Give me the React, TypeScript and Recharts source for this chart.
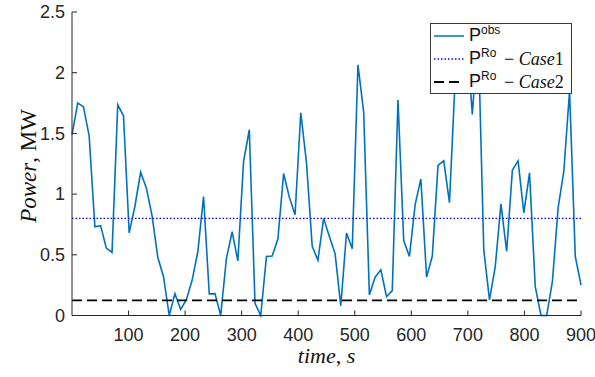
import React from "react";
import { LineChart, Line, XAxis, YAxis, Legend, Label } from "recharts";

// observed power, one sample per step over 0..900 s
const powerObs = [
  1.49, 1.75, 1.72, 1.48, 0.73, 0.74, 0.555, 0.52, 1.735, 1.645,
  0.68, 0.9, 1.18, 1.05, 0.82, 0.48, 0.32, 0.0, 0.18, 0.05,
  0.13, 0.29, 0.525, 0.98, 0.178, 0.18, 0.0, 0.47, 0.69, 0.45,
  1.27, 1.53, 0.1, 0.0, 0.486, 0.49, 0.63, 1.17, 0.975, 0.83,
  1.67, 1.26, 0.57, 0.455, 0.8, 0.65, 0.51, 0.08, 0.68, 0.55,
  2.065, 1.675, 0.17, 0.316, 0.376, 0.155, 0.205, 1.775, 0.618, 0.486,
  0.913, 1.125, 0.316, 0.49, 1.236, 1.274, 0.93, 1.95, 2.25, 2.3,
  1.657, 2.35, 0.54, 0.128, 0.4, 0.92, 0.527, 1.197, 1.274, 0.845,
  1.175, 0.238, 0.0, 0.0, 0.28, 0.886, 1.19, 1.85, 0.486, 0.25,
];
const case1Level = 0.8;
const case2Level = 0.125;
const xTicks = [100, 200, 300, 400, 500, 600, 700, 800, 900];
const yTicks = [0, 0.5, 1, 1.5, 2, 2.5];
const seriesOrder = ["obs", "case1", "case2"];
const legendSup: Record<string, string> = { obs: "obs", case1: "Ro", case2: "Ro" };
const legendCase: Record<string, string> = { obs: "", case1: "Case1", case2: "Case2" };

const time = powerObs.map((_, i) => (i * 900) / (powerObs.length - 1));
const data = powerObs.map((p, i) => ({
  t: time[i],
  obs: p,
  case1: case1Level,
  case2: case2Level,
}));

const axisColor = "#262626";
const sans = "'Liberation Sans', Arial, sans-serif";
const serif = "'Liberation Serif', 'Times New Roman', serif";

function LegendBox({ payload }: any) {
  const items = [...(payload ?? [])].sort(
    (a: any, b: any) => seriesOrder.indexOf(a.dataKey) - seriesOrder.indexOf(b.dataKey)
  );
  return (
    <div
      style={{
        width: 142,
        height: 71,
        boxSizing: "border-box",
        border: "1px solid #3a3a3a",
        background: "#fff",
        paddingTop: 1,
      }}
    >
      {items.map((entry: any) => {
        const key = entry.dataKey as string;
        return (
          <div key={key} style={{ display: "flex", alignItems: "center", height: 23, position: "relative" }}>
            <svg width={36} height={10} style={{ marginLeft: 2 }}>
              <line
                x1={1}
                x2={31}
                y1={5}
                y2={5}
                stroke={entry.color}
                strokeWidth={key === "case2" ? 1.8 : 1.5}
                strokeDasharray={entry.payload?.strokeDasharray}
              />
            </svg>
            <span style={{ fontFamily: sans, fontSize: 18, color: "#111", lineHeight: "18px" }}>
              P
              <span style={{ fontSize: 12, position: "relative", top: -7 }}>{legendSup[key]}</span>
            </span>
            {legendCase[key] && (
              <span
                style={{
                  position: "absolute",
                  left: 73,
                  fontFamily: serif,
                  fontSize: 18,
                  color: "#111",
                  whiteSpace: "nowrap",
                }}
              >
                {"\u2212 "}
                <i>{legendCase[key].slice(0, 4)}</i>
                {legendCase[key].slice(4)}
              </span>
            )}
          </div>
        );
      })}
    </div>
  );
}

export default function App() {
  return (
    <div style={{ position: "absolute", left: 0, top: 0, background: "#fff" }}>
      <LineChart width={595} height={377} data={data} margin={{ top: 12, right: 14, bottom: 0, left: 0 }}>
        <XAxis
          dataKey="t"
          type="number"
          domain={[0, 900]}
          ticks={xTicks}
          interval={0}
          height={61.5}
          tickSize={-5}
          tickMargin={18}
          stroke={axisColor}
          tick={{ fill: axisColor, fontSize: 18, fontFamily: sans }}
        >
          <Label
            content={() => (
              <text x={326.5} y={363} textAnchor="middle" fontFamily={serif} fontSize={22} fill="#111">
                <tspan fontStyle="italic">time</tspan>
                <tspan>, </tspan>
                <tspan fontStyle="italic">s</tspan>
              </text>
            )}
          />
        </XAxis>
        <YAxis
          type="number"
          domain={[0, 2.5]}
          ticks={yTicks}
          interval={0}
          width={72}
          tickSize={-5}
          tickMargin={12}
          stroke={axisColor}
          tick={{ fill: axisColor, fontSize: 18, fontFamily: sans }}
        >
          <Label
            content={() => (
              <text
                transform="translate(36,166) rotate(-90)"
                textAnchor="middle"
                fontFamily={serif}
                fontSize={23}
                fill="#111"
              >
                <tspan fontStyle="italic">Power</tspan>
                <tspan>, MW</tspan>
              </text>
            )}
          />
        </YAxis>
        <Line
          dataKey="obs"
          name="P obs"
          stroke="#0072BD"
          strokeWidth={1.6}
          dot={false}
          isAnimationActive={false}
        />
        <Line
          dataKey="case1"
          name="P Ro - Case1"
          stroke="#0000FF"
          strokeWidth={1.4}
          strokeDasharray="1.5 2"
          dot={false}
          isAnimationActive={false}
        />
        <Line
          dataKey="case2"
          name="P Ro - Case2"
          stroke="#000000"
          strokeWidth={1.8}
          strokeDasharray="10 5"
          dot={false}
          isAnimationActive={false}
        />
        <Legend
          layout="vertical"
          verticalAlign="middle"
          align="center"
          content={<LegendBox />}
          wrapperStyle={{ left: 430, top: 22.7, width: 142, height: 71 }}
        />
      </LineChart>
    </div>
  );
}
